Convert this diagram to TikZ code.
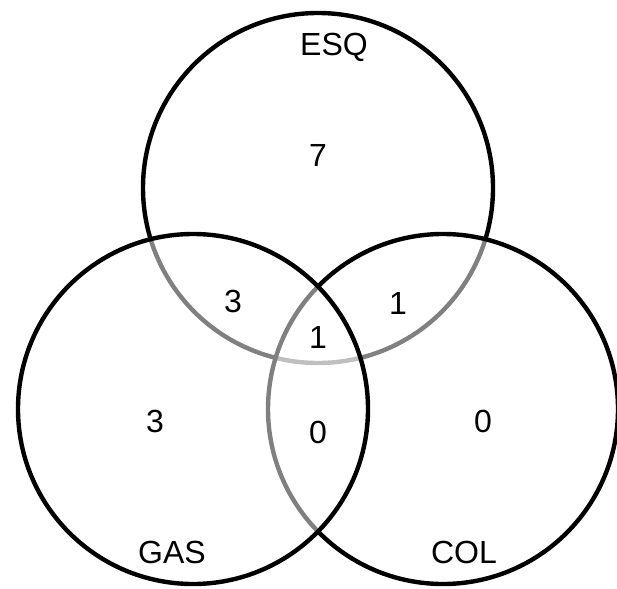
\documentclass[tikz,border=0pt]{standalone}
\usepackage{fontspec}
\setmainfont{Liberation Sans}
\begin{document}
\begin{tikzpicture}[x=1pt, y=-1pt,
  setcircle/.style={circle, inner sep=0pt, minimum size=350pt,
    draw=black, line width=4.4pt, fill=white, fill opacity=0.5, draw opacity=1},
  lbl/.style={inner sep=0pt, anchor=base, font=\fontsize{32}{32}\selectfont}]
  % canvas
  \fill[white] (0,0) rectangle (617,588);
  \useasboundingbox (0,0) rectangle (617,588);
  % the three sets; each later circle half-veils the outlines beneath it
  \node[setcircle] (esq) at (318,188) {};
  \node[setcircle] (col) at (443,409) {};
  \node[setcircle] (gas) at (193,409) {};
  % set names
  \node[lbl] (tesq) at (334,56) {ESQ};
  \node[lbl] (tgas) at (172,563) {GAS};
  \node[lbl] (tcol) at (464,563) {COL};
  % region counts
  \node[lbl] (nesq) at (318,166) {7};
  \node[lbl] (nesqgas) at (233,312) {3};
  \node[lbl] (nesqcol) at (398,314) {1};
  \node[lbl] (nall) at (318,348) {1};
  \node[lbl] (ngas) at (155,432) {3};
  \node[lbl] (ngascol) at (318,443) {0};
  \node[lbl] (ncol) at (483,432) {0};
\end{tikzpicture}
\end{document}
